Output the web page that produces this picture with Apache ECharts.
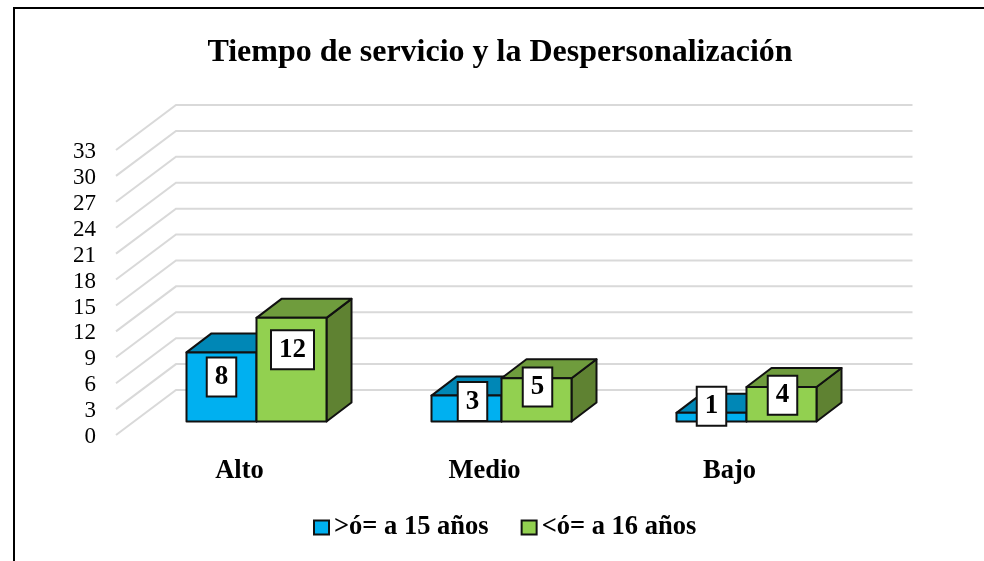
<!DOCTYPE html>
<html>
<head>
<meta charset="utf-8">
<style>
  html, body { margin: 0; padding: 0; background: #fff; }
  #chart { width: 984px; height: 561px; }
</style>
<script src="https://cdn.jsdelivr.net/npm/echarts@6/dist/echarts.min.js"></script>
</head>
<body>
<div id="chart"></div>
<script>
const categories = ['Alto', 'Medio', 'Bajo']
const seriesOlder = [8, 3, 1]
const seriesYounger = [12, 5, 4]
const gridValues = [0, 3, 6, 9, 12, 15, 18, 21, 24, 27, 30, 33]

// hand placed value boxes, offset from the centre of the bar's front face
const olderLabelNudge = [[0, -10], [6, -7], [0, -11]]
const youngerLabelNudge = [[1, -20], [1, -13], [1, -9]]

const font = '"Liberation Serif", "Times New Roman", serif'
const wall = { dx: 60, dy: -45 }
const barPlane = { dx: 18, dy: -13.5 }
const barDepth = { dx: 25, dy: -19 }
const barShare = 70 / 245

function wallItem(params, api) {
  const y = api.coord([0, api.value(1)])[1]
  const x0 = params.coordSys.x
  const x1 = x0 + wall.dx
  const x2 = x1 + params.coordSys.width + 1.5
  return {
    type: 'polyline',
    silent: true,
    shape: { points: [[x0, y], [x1, y + wall.dy], [x2, y + wall.dy]] },
    style: { fill: null, stroke: '#d9d9d9', lineWidth: 2 }
  }
}

function barRenderer(side, colors, nudges) {
  return function(params, api) {
    const i = api.value(0)
    const top = api.coord([i, api.value(1)])
    const base = api.coord([i, 0])
    const w = api.size([1, 0])[0] * barShare
    const xl = top[0] + barPlane.dx + (side < 0 ? -w : 0)
    const xr = xl + w
    const yt = top[1] + barPlane.dy
    const yb = base[1] + barPlane.dy
    const dx = barDepth.dx
    const dy = barDepth.dy
    const edge = { stroke: '#111', lineWidth: 2, lineJoin: 'round' }
    const face = (points, fill) => ({
      type: 'polygon',
      shape: { points },
      style: Object.assign({ fill }, edge)
    })
    return {
      type: 'group',
      children: [
        face([[xr, yt], [xr + dx, yt + dy], [xr + dx, yb + dy], [xr, yb]], colors.side),
        face([[xl, yt], [xl + dx, yt + dy], [xr + dx, yt + dy], [xr, yt]], colors.top),
        face([[xl, yt], [xr, yt], [xr, yb], [xl, yb]], colors.front),
        {
          type: 'text',
          z2: 50,
          x: (xl + xr) / 2 + nudges[i][0],
          y: (yt + yb) / 2 + nudges[i][1],
          style: {
            text: String(api.value(1)),
            font: 'bold 27px ' + font,
            fill: '#000',
            align: 'center',
            verticalAlign: 'middle',
            lineHeight: 27,
            backgroundColor: '#fff',
            borderColor: '#111',
            borderWidth: 2,
            padding: [5, 7, 5, 7]
          }
        }
      ]
    }
  }
}

const chart = echarts.init(document.getElementById('chart'))
chart.setOption({
  animation: false,
  backgroundColor: '#fff',
  title: {
    text: 'Tiempo de servicio y la Despersonalización',
    left: 495,
    top: 32,
    textAlign: 'center',
    textStyle: { fontFamily: font, fontWeight: 'bold', fontSize: 32, color: '#000' }
  },
  legend: {
    data: ['>ó= a 15 años', '<ó= a 16 años'],
    left: 313,
    top: 514,
    padding: 0,
    icon: 'rect',
    itemWidth: 15,
    itemHeight: 14,
    itemGap: 32,
    textStyle: { fontFamily: font, fontWeight: 'bold', fontSize: 26.5, color: '#000' }
  },
  grid: { left: 116, top: 150, width: 735, height: 285 },
  xAxis: {
    type: 'category',
    data: categories,
    axisLine: { show: false },
    axisTick: { show: false },
    axisLabel: { margin: 23, padding: [0, 0, 0, 2], fontFamily: font, fontWeight: 'bold', fontSize: 26.5, color: '#000' }
  },
  yAxis: {
    type: 'value',
    min: 0,
    max: 33,
    interval: 3,
    splitLine: { show: false },
    axisLine: { show: false },
    axisTick: { show: false },
    axisLabel: {
      margin: 20,
      formatter: '{tick|{value}}',
      rich: { tick: { padding: [4, 0, 0, 0], fontFamily: font, fontSize: 23, color: '#000' } }
    }
  },
  series: [
    {
      type: 'custom',
      silent: true,
      renderItem: wallItem,
      data: gridValues.map(v => [0, v]),
      z: 1
    },
    {
      type: 'custom',
      name: '>ó= a 15 años',
      renderItem: barRenderer(-1, { front: '#00b0f0', top: '#0087b6', side: '#0087b6' }, olderLabelNudge),
      itemStyle: { color: '#00b0f0', borderColor: '#111', borderWidth: 2 },
      data: seriesOlder.map((v, i) => [i, v]),
      z: 2
    },
    {
      type: 'custom',
      name: '<ó= a 16 años',
      renderItem: barRenderer(1, { front: '#92d050', top: '#6f9c3d', side: '#5f8232' }, youngerLabelNudge),
      itemStyle: { color: '#92d050', borderColor: '#111', borderWidth: 2 },
      data: seriesYounger.map((v, i) => [i, v]),
      z: 3
    }
  ],
  graphic: [
    {
      type: 'polyline',
      silent: true,
      shape: { points: [[14, 561], [14, 8], [984, 8]] },
      style: { fill: null, stroke: '#000', lineWidth: 2 }
    }
  ]
})
</script>
</body>
</html>
